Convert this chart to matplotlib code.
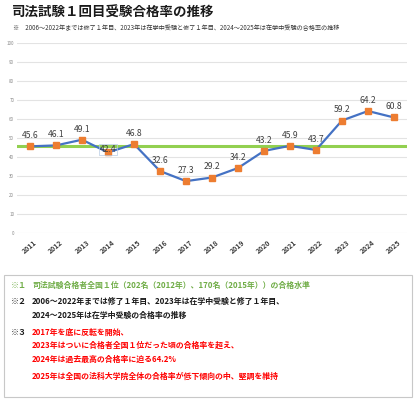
import matplotlib
matplotlib.use("Agg")
import matplotlib.pyplot as plt
from matplotlib.patches import Rectangle

plt.rcParams['font.family'] = ['Noto Sans CJK JP', 'DejaVu Sans']

years = ["2011", "2012", "2013", "2014", "2015", "2016", "2017", "2018",
         "2019", "2020", "2021", "2022", "2023", "2024", "2025"]
rates = [45.6, 46.1, 49.1, 42.4, 46.8, 32.6, 27.3, 29.2, 34.2, 43.2, 45.9, 43.7, 59.2, 64.2, 60.8]
benchmark = 46.0
yticks = list(range(0, 101, 10))

title = "司法試験１回目受験合格率の推移"
subtitle = "※　2006～2022年までは修了１年目、2023年は在学中受験と修了１年目、2024～2025年は在学中受験の合格率の推移"
notes = [
    ("※１", "司法試験合格者全国１位（202名（2012年）、170名（2015年））の合格水準", "#70AD47"),
    ("※２", "2006～2022年までは修了１年目、2023年は在学中受験と修了１年目、", "#1a1a1a"),
    ("", "2024～2025年は在学中受験の合格率の推移", "#1a1a1a"),
    ("※３", "2017年を底に反転を開始、", "#FF0000"),
    ("", "2023年はついに合格者全国１位だった頃の合格率を超え、", "#FF0000"),
    ("", "2024年は過去最高の合格率に迫る64.2%", "#FF0000"),
    ("", "2025年は全国の法科大学院全体の合格率が低下傾向の中、堅調を維持", "#FF0000"),
]

W, H = 416, 399
fig = plt.figure(figsize=(W / 100, H / 100), dpi=100)
fig.patch.set_facecolor("white")

ax = fig.add_axes([17 / W, 1 - 233 / H, (407 - 17) / W, (233 - 43) / H])
x = list(range(len(years)))
ax.set_xlim(-0.5, len(years) - 0.5)
ax.set_ylim(0, 100)
ax.set_yticks(yticks)
ax.set_yticklabels([str(v) for v in yticks], fontsize=3.2, color="#888888")
ax.grid(axis="y", color="#e3e3e3", linewidth=0.8)
ax.set_axisbelow(True)
for s in ax.spines.values():
    s.set_visible(False)
ax.tick_params(axis="both", length=0, pad=2)
ax.set_xticks(x)
ax.set_xticklabels(years, rotation=40, fontsize=5, color="#404040", fontweight="bold",
                   ha="center", va="top")
ax.tick_params(axis="x", pad=4)

ax.axhline(benchmark, color="#92D050", linewidth=2.2, zorder=2)
ax.plot(x, rates, color="#4472C4", linewidth=1.6, zorder=3)
ax.plot(x, rates, linestyle="none", marker="s", markersize=4.2,
        markerfacecolor="#ED7D31", markeredgecolor="#ED7D31", zorder=4)

for xi, v in zip(x, rates):
    if v == 42.4:
        ax.text(xi, v + 1.5, f"{v}", ha="center", va="center", fontsize=6.2, color="#404040",
                zorder=5, bbox=dict(boxstyle="square,pad=0.1", fc="none", ec="#b8cce4", lw=0.5))
    else:
        ax.text(xi, v + 3.2, f"{v}", ha="center", va="bottom", fontsize=6.2, color="#404040", zorder=5)

fig.text(12 / W, 1 - 13 / H, title, fontsize=9.7, fontweight="bold", color="#1a1a1a",
         ha="left", va="center")
fig.text(13 / W, 1 - 28 / H, subtitle, fontsize=4.45, color="#333333", ha="left", va="center")

box = Rectangle((4 / W, 1 - 397 / H), (412 - 4) / W, (397 - 275) / H, transform=fig.transFigure,
                fill=False, edgecolor="#c8c8c8", linewidth=0.8)
fig.add_artist(box)

ys = [285, 301, 315, 332, 345, 359, 376]
for (mark, txt, col), yy in zip(notes, ys):
    if mark:
        fig.text(11 / W, 1 - yy / H, mark, fontsize=5.8, fontweight="bold",
                 color=col if col != "#FF0000" else "#1a1a1a", ha="left", va="center")
    fig.text(32 / W, 1 - yy / H, txt, fontsize=5.7, fontweight="bold", color=col, ha="left", va="center")

fig.savefig("out.png", dpi=100, facecolor="white")
